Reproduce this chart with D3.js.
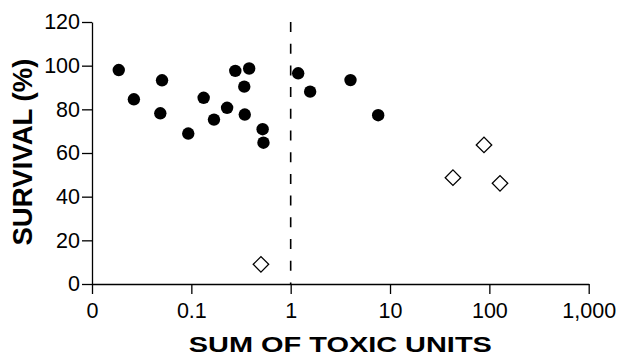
<!DOCTYPE html>
<html>
<head>
<meta charset="utf-8">
<script src="https://cdn.jsdelivr.net/npm/d3@7"></script>
<style>
  html, body { margin: 0; padding: 0; background: #fff; }
  svg { display: block; font-family: "Liberation Sans", Arial, Helvetica, sans-serif; }
</style>
</head>
<body>
<svg id="chart" width="621" height="357"></svg>
<script>
// ---- data ----
const filledToxicUnits = [0.0186, 0.0264, 0.0507, 0.0487, 0.0931, 0.133, 0.169, 0.229, 0.277, 0.382, 0.341, 0.345, 0.522, 0.532, 1.19, 1.57, 4.0, 7.6];
const filledSurvival   = [98.0, 84.6, 93.3, 78.2, 68.9, 85.3, 75.3, 80.7, 97.6, 98.7, 90.4, 77.6, 70.9, 64.7, 96.5, 88.1, 93.4, 77.3];
const openToxicUnits   = [88.3, 43.0, 128, 0.502];
const openSurvival     = [63.7, 48.7, 46.1, 9.0];
const xTickValues = [0.01, 0.1, 1, 10, 100, 1000];
const xTickLabels = ["0", "0.1", "1", "10", "100", "1,000"];
const yTickValues = [0, 20, 40, 60, 80, 100, 120];
const thresholdValue = 1;
const xTitle = "SUM OF TOXIC UNITS";
const yTitle = "SURVIVAL (%)";

// ---- layout ----
const svg = d3.select("#chart");
const x = d3.scaleLog().domain([0.01, 1000]).range([92, 588.7]);
const y = d3.scaleLinear().domain([0, 120]).range([284, 22]);

// y axis
const yAxis = svg.append("g")
  .attr("transform", "translate(92,0)")
  .call(d3.axisLeft(y).tickValues(yTickValues).tickSize(10).tickSizeOuter(0).tickPadding(2));
// x axis
const xAxis = svg.append("g")
  .attr("transform", "translate(0,284)")
  .call(d3.axisBottom(x).tickValues(xTickValues).tickFormat((d, i) => xTickLabels[i]).tickSize(10).tickSizeOuter(0).tickPadding(9));

[yAxis, xAxis].forEach(g => {
  g.selectAll("path.domain").attr("stroke", "#000").attr("stroke-width", 1.3);
  g.selectAll(".tick line").attr("stroke", "#000").attr("stroke-width", 1.3);
  g.selectAll(".tick text").attr("fill", "#000").attr("font-size", 21.5)
    .attr("font-family", "'Liberation Sans', Arial, Helvetica, sans-serif");
});

// threshold dashed line
svg.append("line")
  .attr("x1", x(thresholdValue)).attr("x2", x(thresholdValue))
  .attr("y1", y(120)).attr("y2", y(0))
  .attr("stroke", "#000").attr("stroke-width", 1.6)
  .attr("stroke-dasharray", "10,11.7");

// filled circles
svg.append("g").selectAll("circle")
  .data(filledToxicUnits.map((v, i) => [v, filledSurvival[i]]))
  .join("circle")
  .attr("cx", d => x(d[0])).attr("cy", d => y(d[1]))
  .attr("r", 6.2).attr("fill", "#000");

// open diamonds
const diamond = d3.symbol().type(d3.symbolSquare).size(120);
svg.append("g").selectAll("path")
  .data(openToxicUnits.map((v, i) => [v, openSurvival[i]]))
  .join("path")
  .attr("d", diamond)
  .attr("transform", d => `translate(${x(d[0])},${y(d[1])}) rotate(45)`)
  .attr("fill", "#fff").attr("stroke", "#000").attr("stroke-width", 1.3);

// titles
svg.append("text")
  .attr("x", (x.range()[0] + x.range()[1]) / 2).attr("y", 352)
  .attr("text-anchor", "middle")
  .attr("font-weight", "bold").attr("font-size", 21.5)
  .attr("textLength", 303).attr("lengthAdjust", "spacingAndGlyphs")
  .text(xTitle);

svg.append("text")
  .attr("transform", "translate(32,152) rotate(-90)")
  .attr("text-anchor", "middle")
  .attr("font-weight", "bold").attr("font-size", 27.6)
  .text(yTitle);
</script>
</body>
</html>
